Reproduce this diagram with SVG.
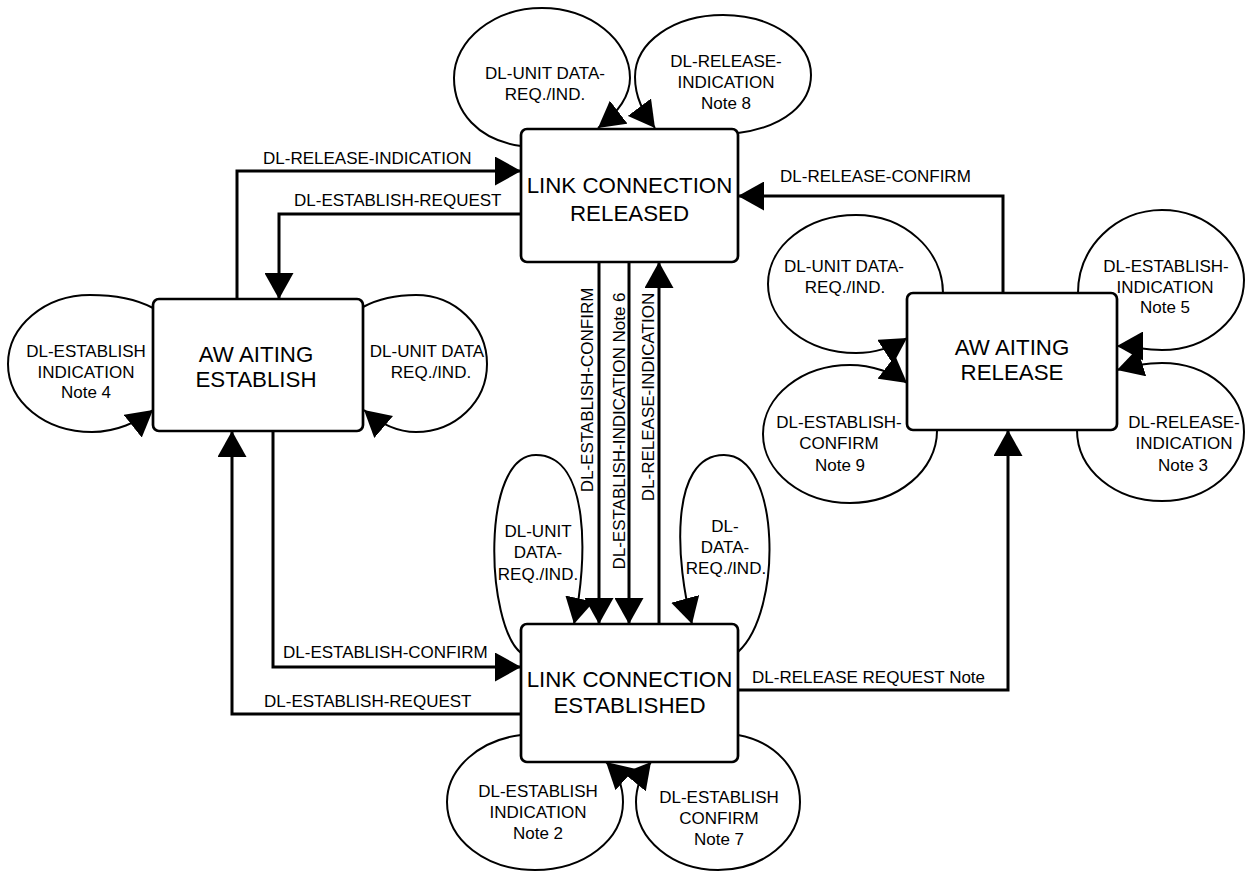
<svg xmlns="http://www.w3.org/2000/svg" width="1247" height="871" viewBox="0 0 1247 871">
<style>
.box{fill:#fff;stroke:#000;stroke-width:2.7}
.st{font-family:"Liberation Sans",Arial,sans-serif;font-size:22.3px;fill:#000;text-anchor:middle}
.lb{font-family:"Liberation Sans",Arial,sans-serif;font-size:17px;fill:#000}
.m{text-anchor:middle}
.cn{fill:none;stroke:#000;stroke-width:3;marker-end:url(#ah)}
.lp{fill:none;stroke:#000;stroke-width:2;marker-end:url(#ah)}
</style>
<defs>
<marker id="ah" markerUnits="userSpaceOnUse" viewBox="0 0 26 29" markerWidth="26" markerHeight="29" refX="26" refY="14.5" orient="auto"><path d="M0,0 L26,14.5 L0,29 z" fill="#000"/></marker>
</defs>
<rect width="1247" height="871" fill="#fff"/>
<g id="connectors">
  <g id="loop-lcr-unitdata">
    <path class="lp" d="M521,146 C478,140 454,112 454,78 C454,40 494,8 542,8 C590,8 630,40 630,78 C630,98 615,115 598,128"/>
    <text class="lb m" x="545" y="79">DL-UNIT DATA-</text>
    <text class="lb m" x="545" y="100">REQ./IND.</text>
  </g>
  <g id="loop-lcr-release">
    <path class="lp" d="M738,133 C785,127 811,103 811,75 C811,42 772,15 723,15 C674,15 635,42 635,77 C635,97 643,112 655,128"/>
    <text class="lb m" x="726" y="67">DL-RELEASE-</text>
    <text class="lb m" x="726" y="88">INDICATION</text>
    <text class="lb m" x="726" y="109">Note 8</text>
  </g>
  <g id="loop-ae-establish">
    <path class="lp" d="M153,308 C136,299 113,295 90,295 C45,295 8,326 8,364 C8,402 45,432 92,432 C116,432 138,422 153,410"/>
    <text class="lb m" x="86" y="357">DL-ESTABLISH</text>
    <text class="lb m" x="86" y="378">INDICATION</text>
    <text class="lb m" x="86" y="398">Note 4</text>
  </g>
  <g id="loop-ae-unitdata">
    <path class="lp" d="M363,307 C378,299 397,295 416,295 C455,295 487,326 487,364 C487,402 455,432 416,432 C395,432 378,422 364,410"/>
    <text class="lb m" x="427" y="357">DL-UNIT DATA</text>
    <text class="lb m" x="431" y="378">REQ./IND.</text>
  </g>
  <g id="loop-lce-unitdata">
    <path class="lp" d="M521,653 C486,625 480,455 536,455 C590,455 588,560 574,624"/>
    <text class="lb m" x="538" y="537">DL-UNIT</text>
    <text class="lb m" x="538" y="558">DATA-</text>
    <text class="lb m" x="538" y="580">REQ./IND.</text>
  </g>
  <g id="loop-lce-data">
    <path class="lp" d="M738,652 C783,612 781,455 724,455 C668,455 676,565 692,624"/>
    <text class="lb m" x="725" y="532">DL-</text>
    <text class="lb m" x="725" y="553">DATA-</text>
    <text class="lb m" x="726" y="574">REQ./IND.</text>
  </g>
  <g id="loop-lce-establish-ind">
    <path class="lp" d="M521,735 C480,740 447,768 447,802 C447,840 486,870 535,870 C584,870 623,840 623,802 C623,785 617,772 606,762"/>
    <text class="lb m" x="538" y="797">DL-ESTABLISH</text>
    <text class="lb m" x="538" y="818">INDICATION</text>
    <text class="lb m" x="538" y="839">Note 2</text>
  </g>
  <g id="loop-lce-establish-conf">
    <path class="lp" d="M738,735 C776,742 800,770 800,802 C800,840 763,870 718,870 C673,870 636,840 636,802 C636,786 642,773 651,762"/>
    <text class="lb m" x="719" y="803">DL-ESTABLISH</text>
    <text class="lb m" x="719" y="824">CONFIRM</text>
    <text class="lb m" x="719" y="845">Note 7</text>
  </g>
  <g id="loop-ar-unitdata">
    <path class="lp" d="M943,293 C943,250 904,215 856,215 C807,215 768,246 768,284 C768,322 807,353 856,353 C877,353 893,347 907,338"/>
    <text class="lb m" x="844" y="272">DL-UNIT DATA-</text>
    <text class="lb m" x="845" y="293">REQ./IND.</text>
  </g>
  <g id="loop-ar-establish-conf">
    <path class="lp" d="M937,431 C937,470 898,503 850,503 C802,503 763,472 763,434 C763,396 802,365 850,365 C872,365 894,373 907,383"/>
    <text class="lb m" x="839" y="428">DL-ESTABLISH-</text>
    <text class="lb m" x="839" y="449">CONFIRM</text>
    <text class="lb m" x="840" y="471">Note 9</text>
  </g>
  <g id="loop-ar-establish-ind">
    <path class="lp" d="M1078,293 C1078,247 1116,210 1162,210 C1208,210 1244,246 1244,280 C1244,318 1208,350 1162,350 C1145,350 1130,346 1117,346"/>
    <text class="lb m" x="1166" y="272">DL-ESTABLISH-</text>
    <text class="lb m" x="1165" y="293">INDICATION</text>
    <text class="lb m" x="1165" y="313">Note 5</text>
  </g>
  <g id="loop-ar-release-ind">
    <path class="lp" d="M1077,430 C1077,470 1115,501 1162,501 C1208,501 1244,470 1244,432 C1244,394 1208,363 1162,363 C1145,363 1130,366 1117,370"/>
    <text class="lb m" x="1184" y="428">DL-RELEASE-</text>
    <text class="lb m" x="1184" y="449">INDICATION</text>
    <text class="lb m" x="1183" y="471">Note 3</text>
  </g>
  <g id="edges">
    <path class="cn" d="M237,299 V171 H521"/>
    <text class="lb" x="263" y="164">DL-RELEASE-INDICATION</text>
    <path class="cn" d="M521,214 H279 V299"/>
    <text class="lb" x="294" y="206">DL-ESTABLISH-REQUEST</text>
    <path class="cn" d="M273,431 V667 H521"/>
    <text class="lb" x="283" y="658">DL-ESTABLISH-CONFIRM</text>
    <path class="cn" d="M521,714 H232 V431"/>
    <text class="lb" x="264" y="707">DL-ESTABLISH-REQUEST</text>
    <path class="cn" d="M599,262 V624"/>
    <text class="lb m" transform="translate(593,390) rotate(-90)">DL-ESTABLISH-CONFIRM</text>
    <path class="cn" d="M629,262 V624"/>
    <text class="lb m" transform="translate(625,431) rotate(-90)">DL-ESTABLISH-INDICATION Note 6</text>
    <path class="cn" d="M659,624 V262"/>
    <text class="lb m" transform="translate(654,397) rotate(-90)">DL-RELEASE-INDICATION</text>
    <path class="cn" d="M738,690 H1008 V430"/>
    <text class="lb" x="752" y="683">DL-RELEASE REQUEST Note</text>
    <path class="cn" d="M1003,293 V196 H738"/>
    <text class="lb" x="780" y="182">DL-RELEASE-CONFIRM</text>
  </g>
</g>
<g id="node-link-released">
  <rect class="box" x="521" y="129" width="217" height="133" rx="6"/>
  <text class="st" x="629.5" y="193">LINK CONNECTION</text>
  <text class="st" x="629.5" y="221">RELEASED</text>
</g>
<g id="node-awaiting-establish">
  <rect class="box" x="153" y="299" width="210" height="132" rx="6"/>
  <text class="st" x="256" y="362">AW<tspan dx="6">AITING</tspan></text>
  <text class="st" x="256" y="387">ESTABLISH</text>
</g>
<g id="node-awaiting-release">
  <rect class="box" x="907" y="293" width="210" height="137" rx="6"/>
  <text class="st" x="1012" y="355">AW<tspan dx="6">AITING</tspan></text>
  <text class="st" x="1012" y="380">RELEASE</text>
</g>
<g id="node-link-established">
  <rect class="box" x="521" y="624" width="217" height="138" rx="6"/>
  <text class="st" x="629.5" y="687">LINK CONNECTION</text>
  <text class="st" x="629.5" y="713">ESTABLISHED</text>
</g>
</svg>
